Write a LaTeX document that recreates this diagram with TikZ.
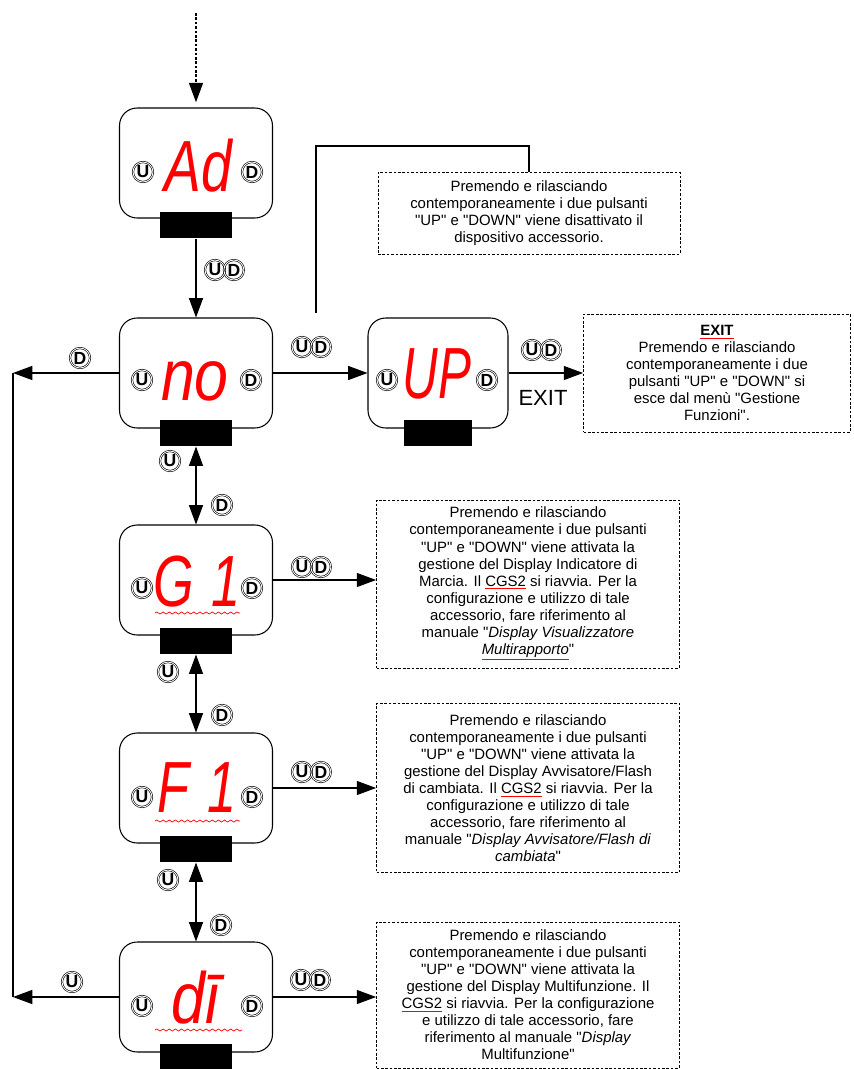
\documentclass[tikz,border=0pt]{standalone}
\usepackage{fontspec}
\setmainfont{Liberation Sans}
\usetikzlibrary{arrows.meta,positioning,decorations.pathmorphing}

\font\qfnt="Liberation Sans" at 8.5pt
\newcommand{\redul}[1]{{\color{red}\underline{\textcolor{black}{#1}}}}
\newcommand{\q}{{\qfnt\char34}}
\newcommand{\segtxt}[2][0.95]{\scalebox{#1}[1.25]{#2}}

\tikzset{
  display/.style={draw, rounded corners=10pt, minimum width=3.06cm, minimum height=2.2cm, line width=0.6pt},
  keybar/.style={fill=black, minimum width=1.46cm, minimum height=0.53cm, inner sep=0pt},
  btn/.style={circle, draw, double, double distance=0.5pt, line width=0.35pt, inner sep=0pt, minimum size=0.4cm, font=\bfseries\fontsize{10}{10}\selectfont},
  seg/.style={text=red, font=\fontsize{33}{33}\selectfont\itshape, anchor=base, inner sep=0pt},
  note/.style={draw, dash pattern=on 1.5pt off 1pt, line width=0.5pt, align=center, inner sep=0pt, font=\fontsize{8.5}{9.7}\selectfont},
  arr/.style={-{Triangle[length=11pt,width=8pt]}, line width=0.6pt},
  biarr/.style={{Triangle[length=11pt,width=8pt]}-{Triangle[length=11pt,width=8pt]}, line width=0.6pt},
  squiggle/.style={red, line width=0.4pt, decorate, decoration={snake, amplitude=0.6pt, segment length=3.5pt}}
}

\begin{document}
\begin{tikzpicture}[x=0.02cm, y=-0.02cm]
\useasboundingbox (0,0) rectangle (853,1069);

% display units
\node[display] (ad) at (196,163) {};
\node[keybar] (adbar) at (196,225) {};
\node[seg] (adtxt) at (198,191) {\segtxt{Ad}};
\node[btn] (adu) at (143,172) {U};
\node[btn] (add) at (252,172) {D};

\node[display] (no) at (196,373) {};
\node[keybar] (nobar) at (196,433) {};
\node[seg] (notxt) at (195,400) {\segtxt[1.05]{no}};
\node[btn] (nou) at (142,380) {U};
\node[btn] (nod) at (251,380) {D};

\node[display, minimum width=2.8cm] (up) at (438,373) {};
\node[keybar, minimum width=1.36cm] (upbar) at (438,433) {};
\node[seg] (uptxt) at (437,398) {\segtxt[0.85]{UP}};
\node[btn] (upu) at (387,380) {U};
\node[btn] (upd) at (487,380) {D};

\node[display] (gi) at (196,580) {};
\node[keybar] (gibar) at (196,641) {};
\node[seg] (gitxt) at (197,606) {\segtxt[0.9]{G\,\,1}};
\node[btn] (giu) at (142,588) {U};
\node[btn] (gid) at (252,588) {D};
\draw[squiggle] (155,613) -- (240,613);

\node[display] (fi) at (196,788) {};
\node[keybar] (fibar) at (196,849) {};
\node[seg] (fitxt) at (197,812) {\segtxt[0.9]{F\,\,1}};
\node[btn] (fiu) at (142,797) {U};
\node[btn] (fid) at (252,797) {D};
\draw[squiggle] (155,821) -- (240,821);

\node[display] (di) at (196,997) {};
\node[keybar] (dibar) at (196,1057) {};
\node[seg] (ditxt) at (195,1023) {\segtxt[1.05]{dī}};
\node[btn] (diu) at (142,1006) {U};
\node[btn] (did) at (252,1006) {D};
\draw[squiggle] (155,1030) -- (242,1030);

% notes
\node[note, minimum width=6.04cm, minimum height=1.64cm] (noteoff) at (529,213) {Premendo e rilasciando\\
contemporaneamente i due pulsanti\\
\q UP\q{} e \q DOWN\q{} viene disattivato il\\
dispositivo accessorio.};

\node[note, minimum width=5.34cm, minimum height=2.36cm] (noteexit) at (717,373) {\textbf{\redul{EXIT}}\\
Premendo e rilasciando\\
contemporaneamente i due\\
pulsanti \q UP\q{} e \q DOWN\q{} si\\
esce dal menù \q Gestione\\
Funzioni\q.};

\node[note, minimum width=6.06cm, minimum height=3.36cm] (notegi) at (528,584) {Premendo e rilasciando\\
contemporaneamente i due pulsanti\\
\q UP\q{} e \q DOWN\q{} viene attivata la\\
gestione del Display Indicatore di\\
Marcia. Il \redul{CGS2} si riavvia. Per la\\
configurazione e utilizzo di tale\\
accessorio, fare riferimento al\\
manuale \q\textit{Display Visualizzatore}\\
\redul{\textit{Multirapporto}}\q};

\node[note, minimum width=6.06cm, minimum height=3.38cm] (notefi) at (528,788) {Premendo e rilasciando\\
contemporaneamente i due pulsanti\\
\q UP\q{} e \q DOWN\q{} viene attivata la\\
gestione del Display Avvisatore/Flash\\
di cambiata. Il \redul{CGS2} si riavvia. Per la\\
configurazione e utilizzo di tale\\
accessorio, fare riferimento al\\
manuale \q\textit{Display Avvisatore/Flash di}\\
\textit{cambiata}\q};

\node[note, minimum width=6.06cm, minimum height=2.92cm] (notedi) at (528,995) {Premendo e rilasciando\\
contemporaneamente i due pulsanti\\
\q UP\q{} e \q DOWN\q{} viene attivata la\\
gestione del Display Multifunzione. Il\\
\redul{CGS2} si riavvia. Per la configurazione\\
e utilizzo di tale accessorio, fare\\
riferimento al manuale \q\textit{Display}\\
Multifunzione\q};

% key labels
\node[btn] (l1u) at (215,270) {U};
\node[btn, right=-1pt of l1u] (l1d) {D};
\node[btn] (l2d) at (80,358) {D};
\node[btn] (l3u) at (302,347) {U};
\node[btn, right=-1pt of l3u] (l3d) {D};
\node[btn] (l4u) at (532,350) {U};
\node[btn, right=-1pt of l4u] (l4d) {D};
\node[font=\fontsize{12.5}{12.5}\selectfont] (exit) at (543,398) {EXIT};
\node[btn] (l5u) at (170,461) {U};
\node[btn] (l6d) at (222,505) {D};
\node[btn] (l7u) at (302,567) {U};
\node[btn, right=-1pt of l7u] (l7d) {D};
\node[btn] (l8u) at (168,672) {U};
\node[btn] (l9d) at (222,715) {D};
\node[btn] (l10u) at (302,772) {U};
\node[btn, right=-1pt of l10u] (l10d) {D};
\node[btn] (l11u) at (168,880) {U};
\node[btn] (l12d) at (221,925) {D};
\node[btn] (l13u) at (301,980) {U};
\node[btn, right=-1pt of l13u] (l13d) {D};
\node[btn] (l14u) at (72,982) {U};

% connectors
\coordinate (start) at (196,13);
\draw[arr, dash pattern=on 1.5pt off 1pt, shorten >=3pt] (start) -- (ad.north);
\draw[arr] (adbar.south) -- (no.north);
\draw[arr] (no.east) -- (up.west);
\draw[arr] (up.east) -- (noteexit.west);
\coordinate (offfoot) at (316,313);
\coordinate (offtop) at (316,146);
\draw[line width=0.6pt] (offfoot) -- (offtop) -| (noteoff.north);
\coordinate (leftno) at (13,373);
\coordinate (leftdi) at (13,997);
\draw[arr] (no.west) -- (leftno);
\draw[arr] (di.west) -- (leftdi);
\draw[line width=0.6pt] (leftno) -- (leftdi);
\draw[biarr] (nobar.south) -- (gi.north);
\draw[biarr] (gibar.south) -- (fi.north);
\draw[biarr] (fibar.south) -- (di.north);
\draw[arr] (gi.east) -- (gi.east -| notegi.west);
\draw[arr] (fi.east) -- (fi.east -| notefi.west);
\draw[arr] (di.east) -- (di.east -| notedi.west);
\end{tikzpicture}
\end{document}
